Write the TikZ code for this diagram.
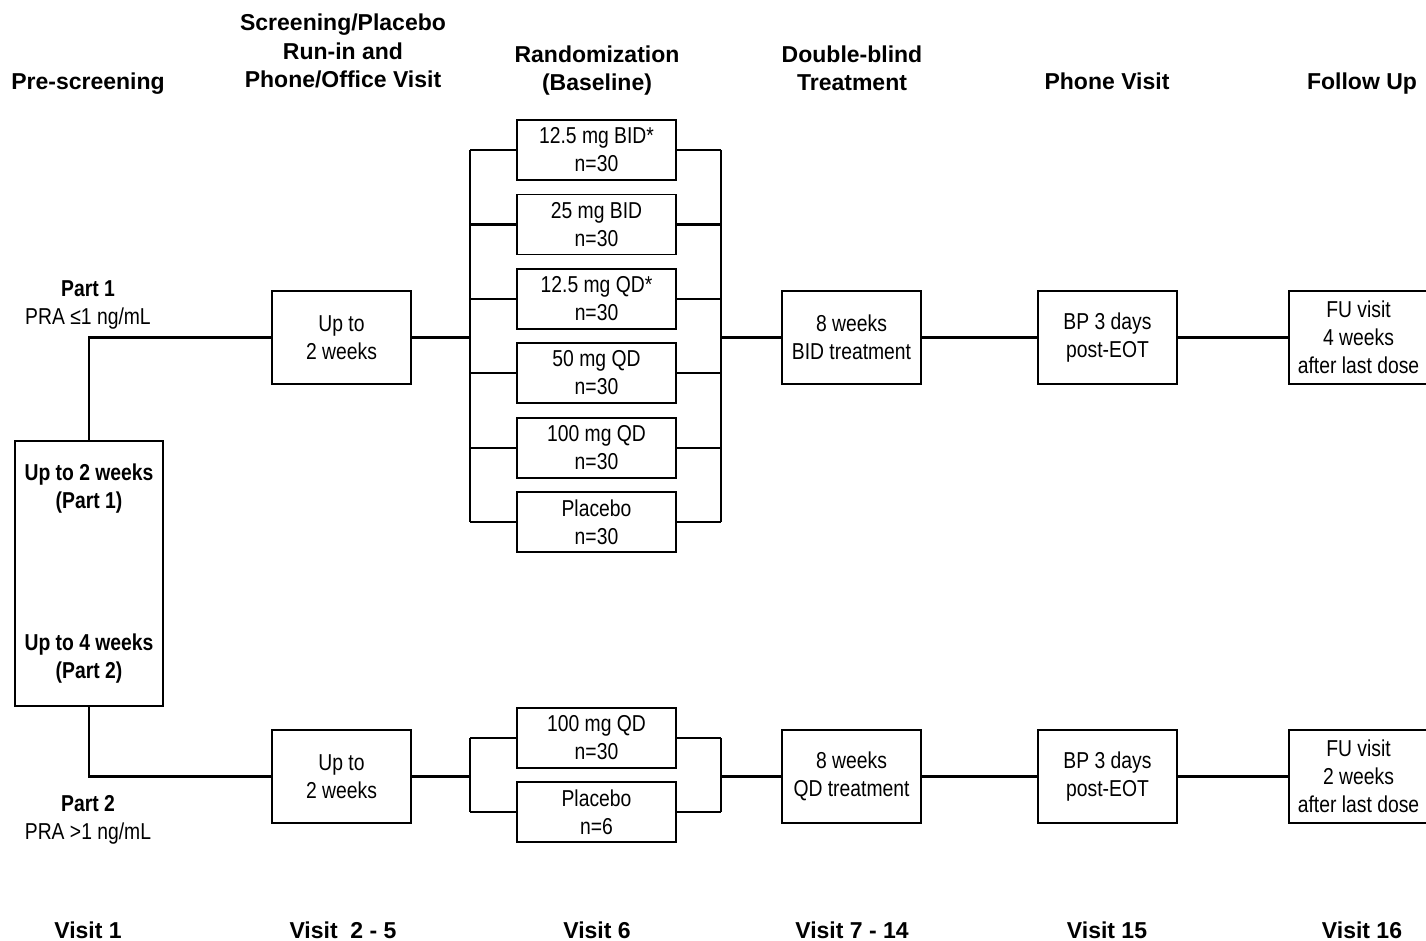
\documentclass[tikz,border=0pt]{standalone}
\usepackage{fontspec}
\setmainfont{Liberation Sans}
\newfontfamily\nar[FakeStretch=0.84]{Liberation Sans}
\begin{document}
\begin{tikzpicture}[x=1pt,y=-1pt,
  hdr/.style={font=\fontsize{23}{28.5}\selectfont\bfseries, align=center, inner sep=0, text height=17, text depth=5},
  lbl/.style={font=\nar\fontsize{23}{28}\selectfont, align=center, inner sep=0, text height=16.5, text depth=4.5},
  blbl/.style={lbl, font=\nar\fontsize{23}{28}\selectfont\bfseries},
  box/.style={draw, line width=1.6, minimum width=139, minimum height=93, inner sep=0, align=center, font=\nar\fontsize{23}{28}\selectfont},
  arm/.style={box, minimum width=159, minimum height=60},
  ln/.style={line width=2.2}]
\useasboundingbox (0,0) rectangle (1426,941);
% headers
\node[hdr] (h1) at (88,84) {Pre-screening};
\node[hdr] (h2) at (343,82) {Screening/Placebo\\Run-in and\\Phone/Office Visit};
\node[hdr] (h3) at (597,85) {Randomization\\(Baseline)};
\node[hdr] (h4) at (852,85) {Double-blind\\Treatment};
\node[hdr] (h5) at (1107,84) {Phone Visit};
\node[hdr] (h6) at (1362,84) {Follow Up};
% visits
\node[hdr] (v1) at (88,932) {Visit 1};
\node[hdr] (v2) at (343,932) {Visit\ \ 2 - 5};
\node[hdr] (v3) at (597,932) {Visit 6};
\node[hdr] (v4) at (852,932) {Visit 7 - 14};
\node[hdr] (v5) at (1107,932) {Visit 15};
\node[hdr] (v6) at (1362,932) {Visit 16};
% pre-screening box
\node[box, minimum width=148, minimum height=265] (pre) at (89,573.5) {};
\node[blbl] (pt1) at (89,502) {Up to 2 weeks\\(Part 1)};
\node[blbl] (pt2) at (89,672) {Up to 4 weeks\\(Part 2)};
% part labels
\node[blbl] (p1a) at (88,290) {Part 1};
\node[lbl] (p1b) at (88,318) {PRA ≤1 ng/mL};
\node[blbl] (p2a) at (88,805) {Part 2};
\node[lbl] (p2b) at (88,833) {PRA >1 ng/mL};
% part 1 row
\node[box] (ru1) at (341.5,337.5) {Up to\\2 weeks};
\node[arm] (a1) at (596.5,150) {12.5 mg BID*\\n=30};
\node[arm] (a2) at (596.5,224.5) {25 mg BID\\n=30};
\node[arm] (a3) at (596.5,299) {12.5 mg QD*\\n=30};
\node[arm] (a4) at (596.5,373) {50 mg QD\\n=30};
\node[arm] (a5) at (596.5,448) {100 mg QD\\n=30};
\node[arm] (a6) at (596.5,522) {Placebo\\n=30};
\node[box] (tr1) at (851.5,337.5) {8 weeks\\BID treatment};
\node[box] (ph1) at (1107.5,337.5) {BP 3 days\\post-EOT};
\node[box] (fu1) at (1358.5,337.5) {FU visit\\4 weeks\\after last dose};
% part 2 row
\node[box] (ru2) at (341.5,776.5) {Up to\\2 weeks};
\node[arm] (b1) at (596.5,738) {100 mg QD\\n=30};
\node[arm] (b2) at (596.5,812) {Placebo\\n=6};
\node[box] (tr2) at (851.5,776.5) {8 weeks\\QD treatment};
\node[box] (ph2) at (1107.5,776.5) {BP 3 days\\post-EOT};
\node[box] (fu2) at (1358.5,776.5) {FU visit\\2 weeks\\after last dose};
% bracket coordinates
\coordinate (bl) at (470,0);
\coordinate (br) at (721,0);
% connectors
\draw[ln] (pre.north) |- (ru1.west);
\draw[ln] (pre.south) |- (ru2.west);
\draw[ln] (ru1.east) -- (ru1.east -| bl);
\draw[ln] (a1.west -| bl) -- (a6.west -| bl);
\draw[ln] (a1.east -| br) -- (a6.east -| br);
\foreach \a in {a1,a2,a3,a4,a5,a6}{
  \draw[ln] (\a.west -| bl) -- (\a.west);
  \draw[ln] (\a.east) -- (\a.east -| br);
}
\draw[ln] (tr1.west -| br) -- (tr1.west);
\draw[ln] (tr1.east) -- (ph1.west);
\draw[ln] (ph1.east) -- (fu1.west);
\draw[ln] (ru2.east) -- (ru2.east -| bl);
\draw[ln] (b1.west -| bl) -- (b2.west -| bl);
\draw[ln] (b1.east -| br) -- (b2.east -| br);
\foreach \a in {b1,b2}{
  \draw[ln] (\a.west -| bl) -- (\a.west);
  \draw[ln] (\a.east) -- (\a.east -| br);
}
\draw[ln] (tr2.west -| br) -- (tr2.west);
\draw[ln] (tr2.east) -- (ph2.west);
\draw[ln] (ph2.east) -- (fu2.west);
\end{tikzpicture}
\end{document}
